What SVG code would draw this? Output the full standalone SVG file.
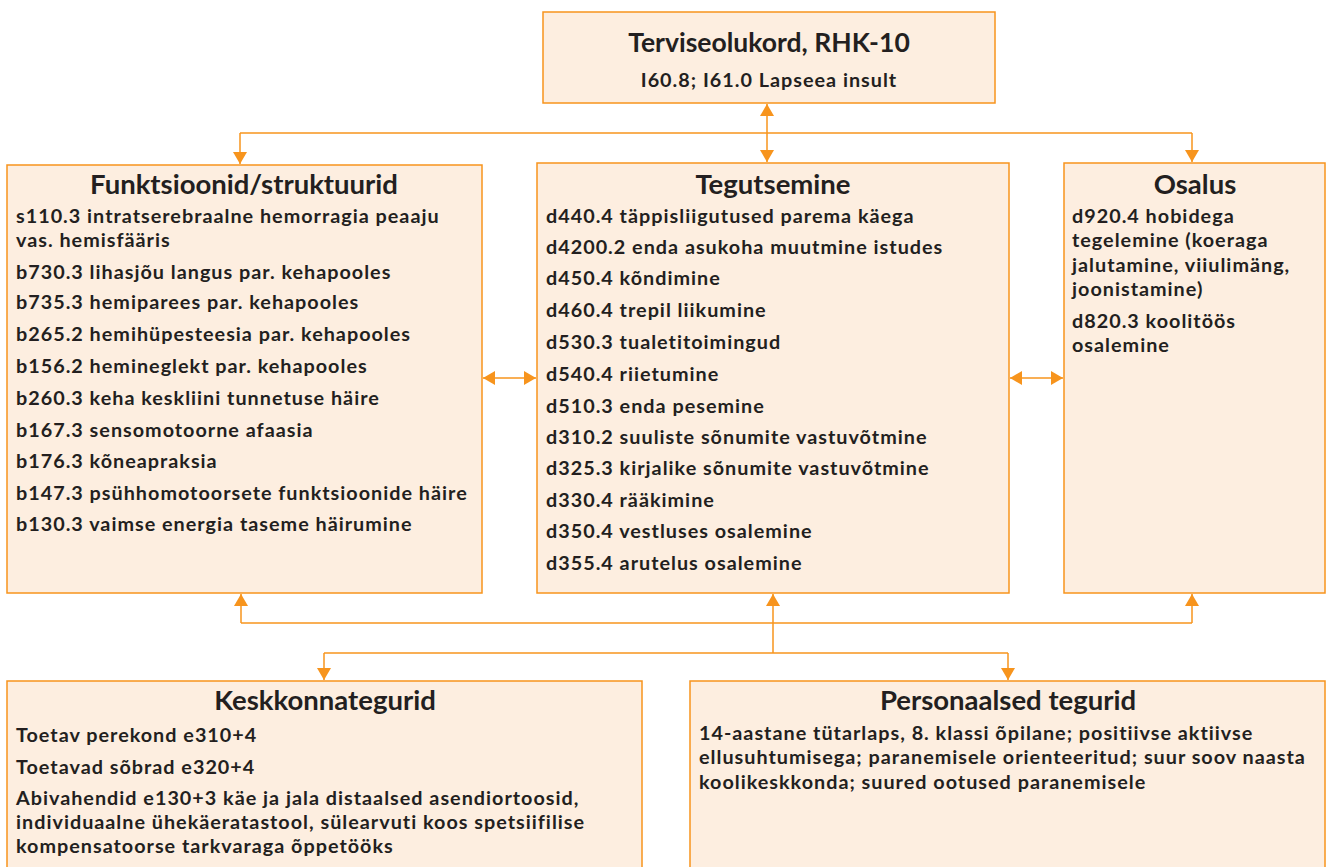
<svg xmlns="http://www.w3.org/2000/svg" width="1329" height="867" viewBox="0 0 1329 867">
  <style>
    .box { fill: #fdeee0; stroke: #f7941d; stroke-width: 1.5; }
    .title { font-family: Lato, "Liberation Sans", sans-serif; font-weight: bold; font-size: 27.5px; fill: #231f20; text-anchor: middle; }
    .main { font-size: 26.5px; }
    .body { font-family: Lato, "Liberation Sans", sans-serif; font-weight: bold; font-size: 19.8px; letter-spacing: 1px; fill: #231f20; }
    .sub { text-anchor: middle; }
    .conn { fill: none; stroke: #f7941d; stroke-width: 1.5; }
  </style>
  <defs>
    <marker id="arrow" viewBox="0 0 12 14" refX="12" refY="7" markerWidth="12" markerHeight="14" markerUnits="userSpaceOnUse" orient="auto-start-reverse">
      <path d="M0,0 L12,7 L0,14 Z" fill="#f7941d"/>
    </marker>
  </defs>
  <rect width="1329" height="867" fill="#ffffff"/>

  <g id="connectors">
    <!-- health condition to activity, and branches to both sides -->
    <path class="conn" d="M767,104 L767,162" marker-start="url(#arrow)" marker-end="url(#arrow)"/>
    <path class="conn" d="M240,133 L1192,133"/>
    <path class="conn" d="M240,133 L240,164" marker-end="url(#arrow)"/>
    <path class="conn" d="M1192,133 L1192,162" marker-end="url(#arrow)"/>
    <!-- horizontal links between the three middle boxes -->
    <path class="conn" d="M483,378 L536,378" marker-start="url(#arrow)" marker-end="url(#arrow)"/>
    <path class="conn" d="M1010,378 L1063,378" marker-start="url(#arrow)" marker-end="url(#arrow)"/>
    <!-- contextual factors up to the three boxes -->
    <path class="conn" d="M241,623 L1192,623"/>
    <path class="conn" d="M241,623 L241,594" marker-end="url(#arrow)"/>
    <path class="conn" d="M1192,623 L1192,594" marker-end="url(#arrow)"/>
    <path class="conn" d="M773,653 L773,594" marker-end="url(#arrow)"/>
    <path class="conn" d="M324,653 L1008,653"/>
    <path class="conn" d="M324,653 L324,680" marker-end="url(#arrow)"/>
    <path class="conn" d="M1008,653 L1008,680" marker-end="url(#arrow)"/>
  </g>

  <g id="terviseolukord">
    <rect class="box" x="543" y="12" width="452" height="91"/>
    <text class="title main" x="769" y="52">Terviseolukord, RHK-10</text>
    <text class="body sub" x="769" y="87">I60.8; I61.0 Lapseea insult</text>
  </g>

  <g id="funktsioonid">
    <rect class="box" x="7" y="165" width="475" height="428"/>
    <text class="title" x="244" y="194">Funktsioonid/struktuurid</text>
    <text class="body" x="16" y="223">s110.3 intratserebraalne hemorragia peaaju</text>
    <text class="body" x="16" y="247">vas. hemisfääris</text>
    <text class="body" x="16" y="279">b730.3 lihasjõu langus par. kehapooles</text>
    <text class="body" x="16" y="309">b735.3 hemiparees par. kehapooles</text>
    <text class="body" x="16" y="341">b265.2 hemihüpesteesia par. kehapooles</text>
    <text class="body" x="16" y="373">b156.2 hemineglekt par. kehapooles</text>
    <text class="body" x="16" y="405">b260.3 keha keskliini tunnetuse häire</text>
    <text class="body" x="16" y="437">b167.3 sensomotoorne afaasia</text>
    <text class="body" x="16" y="468">b176.3 kõneapraksia</text>
    <text class="body" x="16" y="500">b147.3 psühhomotoorsete funktsioonide häire</text>
    <text class="body" x="16" y="531">b130.3 vaimse energia taseme häirumine</text>
  </g>

  <g id="tegutsemine">
    <rect class="box" x="537" y="163" width="472" height="430"/>
    <text class="title" x="773" y="194">Tegutsemine</text>
    <text class="body" x="546" y="223">d440.4 täppisliigutused parema käega</text>
    <text class="body" x="546" y="254">d4200.2 enda asukoha muutmine istudes</text>
    <text class="body" x="546" y="285">d450.4 kõndimine</text>
    <text class="body" x="546" y="317">d460.4 trepil liikumine</text>
    <text class="body" x="546" y="349">d530.3 tualetitoimingud</text>
    <text class="body" x="546" y="381">d540.4 riietumine</text>
    <text class="body" x="546" y="413">d510.3 enda pesemine</text>
    <text class="body" x="546" y="444">d310.2 suuliste sõnumite vastuvõtmine</text>
    <text class="body" x="546" y="475">d325.3 kirjalike sõnumite vastuvõtmine</text>
    <text class="body" x="546" y="507">d330.4 rääkimine</text>
    <text class="body" x="546" y="538">d350.4 vestluses osalemine</text>
    <text class="body" x="546" y="570">d355.4 arutelus osalemine</text>
  </g>

  <g id="osalus">
    <rect class="box" x="1064" y="163" width="261" height="430"/>
    <text class="title" x="1195" y="194">Osalus</text>
    <text class="body" x="1072" y="223">d920.4 hobidega</text>
    <text class="body" x="1072" y="247">tegelemine (koeraga</text>
    <text class="body" x="1072" y="272">jalutamine, viiulimäng,</text>
    <text class="body" x="1072" y="296">joonistamine)</text>
    <text class="body" x="1072" y="328">d820.3 koolitöös</text>
    <text class="body" x="1072" y="352">osalemine</text>
  </g>

  <g id="keskkonnategurid">
    <rect class="box" x="7" y="681" width="635" height="200"/>
    <text class="title" x="325" y="710">Keskkonnategurid</text>
    <text class="body" x="16" y="742">Toetav perekond e310+4</text>
    <text class="body" x="16" y="774">Toetavad sõbrad e320+4</text>
    <text class="body" x="16" y="805">Abivahendid e130+3 käe ja jala distaalsed asendiortoosid,</text>
    <text class="body" x="16" y="829">individuaalne ühekäeratastool, sülearvuti koos spetsiifilise</text>
    <text class="body" x="16" y="853">kompensatoorse tarkvaraga õppetööks</text>
  </g>

  <g id="personaalsed">
    <rect class="box" x="690" y="681" width="635" height="200"/>
    <text class="title" x="1008" y="710">Personaalsed tegurid</text>
    <text class="body" x="699" y="740">14-aastane tütarlaps, 8. klassi õpilane; positiivse aktiivse</text>
    <text class="body" x="699" y="764">ellusuhtumisega; paranemisele orienteeritud; suur soov naasta</text>
    <text class="body" x="699" y="789">koolikeskkonda; suured ootused paranemisele</text>
  </g>
</svg>
